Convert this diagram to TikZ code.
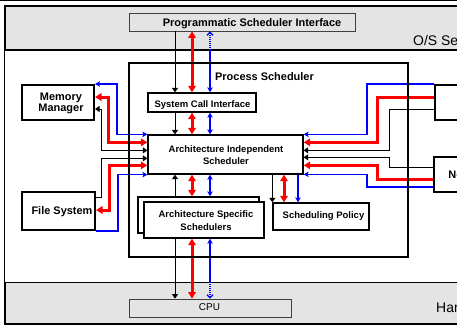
\documentclass[tikz,border=0pt]{standalone}
\usepackage{fontspec}
\setmainfont{Liberation Sans}
\usetikzlibrary{arrows.meta,calc}
\definecolor{band}{HTML}{E4E4E4}
\definecolor{rd}{HTML}{FF0000}
\definecolor{bl}{HTML}{0000FF}

\begin{document}
\begin{tikzpicture}[x=1bp,y=-1bp,
  box/.style={draw, line width=1.3bp, fill=white, inner sep=0pt},
  heavybox/.style={draw, line width=2bp, fill=white, inner sep=0pt},
  greybox/.style={draw=black!75, line width=0.8bp, fill=band, inner sep=0pt},
  lbl/.style={font=\bfseries\fontsize{9.5}{12}\selectfont, inner sep=0pt, anchor=base, align=center},
  biglbl/.style={font=\bfseries\fontsize{11}{11}\selectfont, inner sep=0pt, anchor=base, align=center},
  bandlbl/.style={font=\fontsize{14}{14}\selectfont, inner sep=0pt, anchor=base west},
  blk/.style={line width=1bp, draw=black, >={Triangle[length=4.5bp,width=6bp]}},
  redl/.style={line width=3bp, draw=rd, >={Triangle[length=6.5bp,width=7.5bp]}},
  blul/.style={line width=1.3bp, draw=bl, >={Stealth[length=5bp,width=5.5bp,inset=1.2bp]}},
  dots/.style={dash pattern=on 1bp off 1bp},
  openhead/.tip={Straight Barb[length=3bp,width=6bp]}
]
\useasboundingbox (0,0) rectangle (457,326);

% frame and layer bands
\draw[line width=1bp] (0,0.5) -- (457,0.5);
\node[fill=band, draw, line width=1.3bp, inner sep=0pt, minimum width=470bp, minimum height=318bp] (outer) at (240,165) {};
\node[fill=white, inner sep=0pt, minimum width=470bp, minimum height=232bp] (core) at (240,166) {};
\draw[line width=1.6bp] (core.north west) -- (core.north east);
\draw[line width=0.8bp] (core.south west) -- (core.south east);
\node[bandlbl] (ostext) at (413,45) {O/S Services};
\node[bandlbl] (hwtext) at (436,312) {Hardware};

% interface boxes in the bands
\node[greybox, minimum width=226bp, minimum height=18bp] (psi) at (242,22) {};
\node[biglbl] (psit) at (252,26) {Programmatic Scheduler Interface};
\node[greybox, minimum width=162bp, minimum height=18bp] (cpu) at (210,308) {};
\node[font=\fontsize{10}{10}\selectfont, inner sep=0pt, anchor=base] (cput) at (209.5,310) {CPU};

% process scheduler area
\node[fill=white, inner sep=0pt, minimum width=279bp, minimum height=194bp] (ps) at (268.5,160) {};
\node[biglbl] (pst) at (264.5,80) {Process Scheduler};

\node[box, minimum width=108bp, minimum height=19bp] (sci) at (202,102.5) {};
\node[lbl] (scit) at (202.5,107) {System Call Interface};

\node[box, minimum width=155bp, minimum height=39bp] (ais) at (225.5,154.5) {};
\node[lbl] (aist) at (226,164) {Architecture Independent\\Scheduler};

\node[box, minimum width=121bp, minimum height=36bp] (assb) at (198.5,215) {};
\node[box, minimum width=120bp, minimum height=36bp] (assf) at (204,220) {};
\node[lbl, font=\bfseries\fontsize{9.5}{13}\selectfont] (asst) at (206,230) {Architecture Specific\\Schedulers};

\node[box, minimum width=96bp, minimum height=27bp] (sp) at (321,216.5) {};
\node[lbl] (spt) at (323.5,218.5) {Scheduling Policy};

% neighbouring subsystems
\node[heavybox, minimum width=72bp, minimum height=35bp] (mm) at (58,102.5) {};
\node[biglbl] (mmt) at (61,111) {Memory\\Manager};
\node[heavybox, minimum width=73bp, minimum height=38bp] (fs) at (58.5,211) {};
\node[biglbl] (fst) at (62,214) {File System};
\node[heavybox, minimum width=70bp, minimum height=35bp] (ipc) at (470,102.5) {};
\node[heavybox, minimum width=72bp, minimum height=35bp] (net) at (470,174.5) {};
\node[biglbl] (nett) at (470,178) {Network};

% connector columns
\coordinate (cA) at (175,0);
\coordinate (cB) at (192,0);
\coordinate (cC) at (210,0);
\coordinate (cD) at (284,0);
\coordinate (cE) at (298,0);

% ports along the sides of the independent scheduler
\coordinate (aL1) at (ais.north west);
\coordinate (aL2) at ($(ais.north west)+(0,8)$);
\coordinate (aL3) at ($(ais.north west)+(0,16)$);
\coordinate (aL4) at ($(ais.north west)+(0,24)$);
\coordinate (aL5) at ($(ais.north west)+(0,31)$);
\coordinate (aL6) at (ais.south west);
\coordinate (aR1) at (ais.north east);
\coordinate (aR2) at ($(ais.north east)+(0,8)$);
\coordinate (aR3) at ($(ais.north east)+(0,16)$);
\coordinate (aR4) at ($(ais.north east)+(0,23)$);
\coordinate (aR5) at ($(ais.north east)+(0,31)$);
\coordinate (aR6) at ($(ais.north east)+(0,40)$);

% programmatic interface <-> system call interface
\draw[blk,->] (psi.south -| cA) -- (sci.north -| cA);
\draw[redl,<->] (psi.south -| cB) -- (sci.north -| cB);
\draw[blul,dots,openhead-] (psi.south -| cC) -- (core.north -| cC);
\draw[blul,->] (core.north -| cC) -- (sci.north -| cC);

% system call interface <-> independent scheduler
\draw[blk,->] (sci.south -| cA) -- (ais.north -| cA);
\draw[redl,<->] (sci.south -| cB) -- (ais.north -| cB);
\draw[blul,<->] (sci.south -| cC) -- (ais.north -| cC);

% specific schedulers <-> independent scheduler
\draw[blk,->] (assb.north -| cA) -- (ais.south -| cA);
\draw[redl,<->] (assb.north -| cB) -- (ais.south -| cB);
\draw[blul,<->] (assb.north -| cC) -- (ais.south -| cC);

% independent scheduler <-> scheduling policy
\draw[blk,->] (ais.south -| sp.west) -- (sp.north west);
\draw[redl,<->] (ais.south -| cD) -- (sp.north -| cD);
\draw[blul,->] (ais.south -| cE) -- (sp.north -| cE);

% specific schedulers <-> CPU
\draw[blk,->] (assf.south -| cA) -- (cpu.north -| cA);
\draw[redl,<->] (assf.south -| cB) -- (cpu.north -| cB);
\draw[blul,<-] (assf.south -| cC) -- (core.south -| cC);
\draw[blul,dots,-openhead] (core.south -| cC) -- (cpu.north -| cC);

% memory manager and file system
\draw[blul,<->] (mm.north east) -- ++(22,0) |- (aL1);
\draw[redl,<->] ($(mm.north east)+(0,13)$) -- ++(13,0) |- (aL2);
\draw[blk,<->] ($(mm.north east)+(0,25)$) -- ++(6,0) |- (aL3);
\draw[blk,->] ($(fs.north east)+(0,6)$) -- ++(5,0) |- (aL4);
\draw[redl,<->] ($(fs.north east)+(0,19)$) -- ++(13,0) |- (aL5);
\draw[blul,->] (fs.south east) -- ++(22,0) |- (aL6);

% IPC and network
\draw[blul,->] (ipc.north west) -- ++(-67,0) |- (aR1);
\draw[redl,->] ($(ipc.north west)+(0,13)$) -- ++(-57,0) |- (aR2);
\draw[blk,->] ($(ipc.north west)+(0,25)$) -- ++(-45,0) |- (aR3);
\draw[blk,->] ($(net.north west)+(0,11)$) -- ++(-44,0) |- (aR4);
\draw[redl,->] ($(net.north west)+(0,23)$) -- ++(-56,0) |- (aR5);
\draw[blul,->] ($(net.north west)+(0,31)$) -- ++(-66,0) |- (aR6);

% process scheduler outline on top of the crossing lines
\draw[line width=1.8bp] (ps.north west) rectangle (ps.south east);
\end{tikzpicture}
\end{document}
